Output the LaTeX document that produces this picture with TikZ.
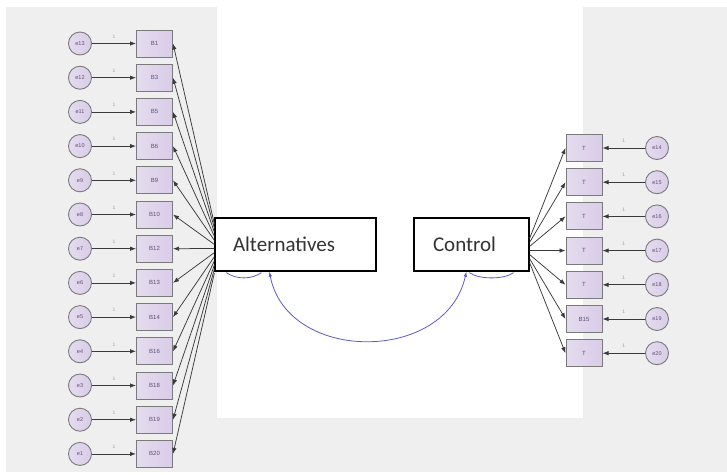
\documentclass[tikz,border=0pt]{standalone}
\usepackage{fontspec}
\setmainfont{Liberation Sans}
\newfontfamily\calib{Carlito}
\usetikzlibrary{arrows.meta,calc}

\definecolor{panel}{HTML}{EFEFEF}
\definecolor{boxfill}{HTML}{E4DCEE}
\definecolor{boxfillb}{HTML}{D9CCE8}
\definecolor{boxline}{HTML}{7A7A7A}
\definecolor{labcol}{HTML}{5E4E78}
\definecolor{onecol}{HTML}{A0A0A0}
\definecolor{pathcol}{HTML}{3A3A3A}
\definecolor{corrcol}{HTML}{5A5AD0}
\definecolor{darktext}{HTML}{333333}

\begin{document}
\begin{tikzpicture}[x=1pt,y=-1pt,
  obs/.style={draw=boxline, line width=1pt, left color=boxfill, right color=boxfillb,
    minimum width=36pt, minimum height=27pt, inner sep=0pt,
    font=\fontsize{6}{6}\selectfont, text=labcol},
  err/.style={circle, draw=boxline, line width=0.9pt, left color=boxfill, right color=boxfillb,
    minimum size=23pt, inner sep=0pt, font=\fontsize{5.5}{5.5}\selectfont, text=labcol},
  lat/.style={draw=black, line width=1.3pt, fill=white, minimum height=53pt,
    inner ysep=0pt, align=left, font=\calib\fontsize{21}{21}\selectfont, text=darktext},
  load/.style={draw=pathcol, line width=0.75pt, -{Latex[length=6pt,width=4.5pt]}},
  one/.style={font=\fontsize{5}{5}\selectfont, text=onecol, inner sep=0pt},
  corr/.style={draw=corrcol, line width=0.8pt}
]
\useasboundingbox (0,0) rectangle (727,474);

% background panels
\fill[panel] (6,7) rectangle (727,472);
\fill[white] (217,0) rectangle (583,418);

% latent variables
\node[lat, inner xsep=18pt, text width=125pt] (alt) at (295.5,244.5) {Alternatives};
\node[lat, inner xsep=19pt, text width=77pt] (ctl) at (471.5,244.5) {Control};

% indicators of Alternatives
\foreach \e/\b [count=\k from 0] in {13/B1,12/B3,11/B5,10/B6,9/B9,8/B10,7/B12,6/B13,5/B14,4/B16,3/B18,2/B19,1/B20}{
  \node[err] (e\e) at (80,{43.5+34.2*\k}) {e\e};
  \node[obs] (b\k) at (154.5,{43.5+34.2*\k}) {\b};
  \draw[load] (e\e) -- (b\k);
  \node[one] (o\k) at ($(e\e.east)!0.5!(b\k.west)+(0,-7)$) {1};
  \coordinate (s\k) at ($(alt.west)+(0,{4+0.12*(34.2*\k-205.2)})$);
  \draw[load] (s\k) -- (b\k.east);
}

% indicators of Control
\foreach \e/\b [count=\k from 0] in {14/T,15/T,16/T,17/T,18/T,19/B15,20/T}{
  \node[err] (e\e) at (657,{148+34.2*\k}) {e\e};
  \node[obs] (t\k) at (584,{148+34.2*\k}) {\b};
  \draw[load] (e\e) -- (t\k);
  \node[one] (p\k) at ($(e\e.west)!0.5!(t\k.east)+(0,-7)$) {1};
  \coordinate (r\k) at ($(ctl.east)+(0,{6+0.12*(34.2*\k-102.6)})$);
  \draw[load] (r\k) -- (t\k.west);
}

% covariance between the latent variables
\coordinate (ca) at ($(alt.south west)+(55,0)$);
\coordinate (cb) at ($(ctl.south west)+(53,0)$);
\draw[corr, {Latex[length=5pt,width=3.5pt]}-{Latex[length=5pt,width=3.5pt]}]
  (ca) .. controls +(18,92) and +(-20,92) .. (cb);

% small variance arcs under the latent boxes
\coordinate (va1) at ($(alt.south west)+(12,1)$);
\coordinate (va2) at ($(alt.south west)+(47,1)$);
\draw[corr] (va1) .. controls +(10,7) and +(-10,7) .. (va2);
\coordinate (vb1) at ($(ctl.south west)+(56,1)$);
\coordinate (vb2) at ($(ctl.south east)+(-16,1)$);
\draw[corr] (vb1) .. controls +(10,7) and +(-10,7) .. (vb2);
\end{tikzpicture}
\end{document}
